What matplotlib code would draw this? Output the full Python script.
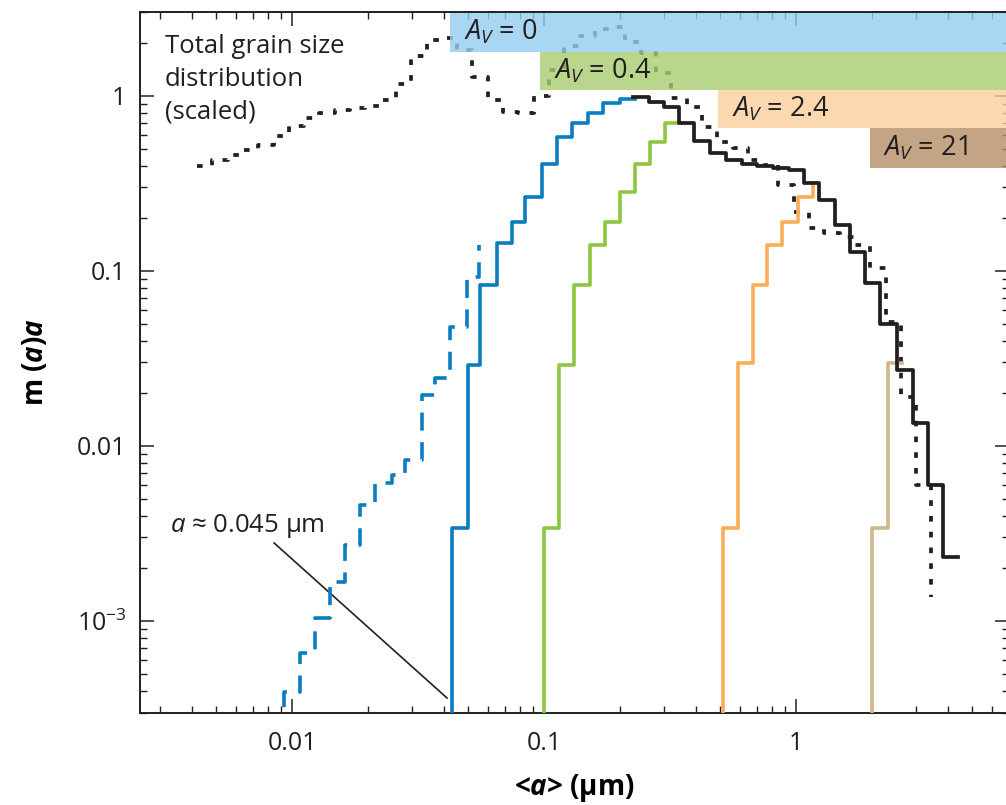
import numpy as np
import matplotlib.pyplot as plt
from matplotlib.patches import Rectangle

plt.rcParams['font.family'] = ['Open Sans', 'DejaVu Sans']
plt.rcParams['mathtext.fontset'] = 'custom'
plt.rcParams['mathtext.rm'] = 'Open Sans'
plt.rcParams['mathtext.it'] = 'Open Sans:italic'
plt.rcParams['mathtext.bf'] = 'Open Sans:bold'
plt.rcParams['mathtext.bfit'] = 'Open Sans:italic:bold'

# total grain size distribution (scaled), dotted histogram
total_edges = [0.004198, 0.004828, 0.005552, 0.006385, 0.007343, 0.008445, 0.009712,
               0.01117, 0.01284, 0.01477, 0.01699, 0.01953, 0.02246, 0.02583, 0.02972,
               0.03417, 0.03930, 0.04519, 0.05198, 0.05978, 0.06875, 0.07907, 0.09093,
               0.1046, 0.1203, 0.1383, 0.1591, 0.1829, 0.2104, 0.2420, 0.2783, 0.3200,
               0.3681, 0.4233, 0.4868, 0.5598, 0.6438, 0.7404, 0.8515, 0.9792, 1.126,
               1.295, 1.489, 1.713, 1.970, 2.265, 2.606, 2.996, 3.446]
total_vals = [0.398, 0.431, 0.460, 0.491, 0.525, 0.591, 0.674, 0.749, 0.800, 0.832,
              0.854, 0.877, 0.949, 1.171, 1.693, 2.089, 2.145, 1.832, 1.284, 0.949,
              0.810, 0.800, 1.0, 1.408, 1.931, 2.202, 2.415, 2.479, 2.035, 1.761,
              1.353, 0.974, 0.865, 0.665, 0.546, 0.504, 0.431, 0.403, 0.310, 0.217,
              0.176, 0.165, 0.156, 0.141, 0.104, 0.0511, 0.0191, 0.00598]
total_end = 0.00137

# A_V = 0, lower cut-off extended (dashed blue)
av0d_edges = [0.00929, 0.01076, 0.01234, 0.01416, 0.01623, 0.01862, 0.02135, 0.02494,
              0.02808, 0.03272, 0.03690, 0.04236, 0.04933, 0.05533]
av0d_vals = [3.93e-4, 6.56e-4, 1.04e-3, 1.67e-3, 2.72e-3, 4.6e-3, 6.15e-3, 6.83e-3,
             8.32e-3, 0.0196, 0.0245, 0.0479, 0.0924]
av0d_end = 0.14

# A_V = 0 (solid blue)
av0_edges = [0.0431, 0.0501, 0.0557, 0.0649, 0.0744, 0.0841, 0.098, 0.1123, 0.1288,
             0.150, 0.1718, 0.2004, 0.2297]
av0_vals = [0.0034, 0.029, 0.083, 0.144, 0.19, 0.266, 0.41, 0.586, 0.698, 0.796,
            0.908, 0.957]

# A_V = 0.4 (green)
av04_edges = [0.1, 0.1148, 0.1316, 0.152, 0.1747, 0.2004, 0.2297, 0.2636, 0.302, 0.3467]
av04_vals = [0.0034, 0.029, 0.083, 0.141, 0.191, 0.284, 0.41, 0.548, 0.698]

# A_V = 2.4 (orange)
av24_edges = [0.512, 0.590, 0.677, 0.766, 0.878, 1.021, 1.172]
av24_vals = [0.0034, 0.0297, 0.083, 0.141, 0.191, 0.266]
av24_end = 0.317

# A_V = 21 (tan)
av21_edges = [1.995, 2.32, 2.63]
av21_vals = [0.0034, 0.0297]

# common large-grain part (black)
big_edges = [0.2254, 0.261, 0.299, 0.343, 0.394, 0.456, 0.527, 0.610, 0.700, 0.811,
             0.938, 1.077, 1.234, 1.429, 1.638, 1.878, 2.153, 2.515, 2.911, 3.34,
             3.83, 4.39]
big_vals = [0.99, 0.92, 0.87, 0.70, 0.55, 0.47, 0.43, 0.41, 0.40, 0.39, 0.378, 0.317,
            0.255, 0.183, 0.129, 0.085, 0.050, 0.0272, 0.0135, 0.0060, 0.00233]

# label boxes: text, left size cut-off, lower and upper y
box_labels = ['$A_V$ = 0', '$A_V$ = 0.4', '$A_V$ = 2.4', '$A_V$ = 21']
box_left = [0.0424, 0.0968, 0.492, 1.966]
box_low = [1.79, 1.082, 0.654, 0.389]
box_high = [3.0, 1.79, 1.082, 0.654]
box_colors = ['#94cef0', '#a6ce6f', '#fbcf9c', '#b58d65']

XMIN, XMAX = 0.0025, 7.0
YMIN, YMAX = 3e-4, 3.0
FLOOR = 1e-4


def step_xy(edges, values, floor=None, end=None):
    xs, ys = [], []
    if floor is not None:
        xs.append(edges[0])
        ys.append(floor)
    for i, v in enumerate(values):
        xs += [edges[i], edges[i + 1]]
        ys += [v, v]
    if end is not None:
        xs.append(edges[-1])
        ys.append(end)
    return xs, ys


fig = plt.figure(figsize=(10.06, 8.05), dpi=100)
ax = fig.add_axes([0.1395, 0.1149, 0.8635, 0.8696])
ax.set_xscale('log')
ax.set_yscale('log')
ax.set_xlim(XMIN, XMAX)
ax.set_ylim(YMIN, YMAX)

# dotted total distribution
x, y = step_xy(total_edges, total_vals, end=total_end)
ax.plot(x, y, color='#231f20', lw=2.7, ls=(0, (1.5, 2.7)), zorder=1)

# label boxes over the dotted line
for lab, xl, lo, hi, c in zip(box_labels, box_left, box_low, box_high, box_colors):
    ax.add_patch(Rectangle((xl, lo), XMAX * 2 - xl, hi - lo, facecolor=c,
                           edgecolor='none', alpha=0.8, zorder=2))
    ax.text(xl * 1.13, np.sqrt(lo * hi), lab, fontsize=19.5, va='center', ha='left',
            color='#231f20', zorder=3)

x, y = step_xy(av0d_edges, av0d_vals, floor=FLOOR, end=av0d_end)
ax.plot(x, y, color='#0a7dc2', lw=2.6, ls=(0, (5, 3.2)), zorder=4)

for ed, vals, col, end in [(av0_edges, av0_vals, '#0a7dc2', None),
                           (av04_edges, av04_vals, '#8dc63f', None),
                           (av24_edges, av24_vals, '#fbad57', av24_end),
                           (av21_edges, av21_vals, '#d3b68e', None)]:
    x, y = step_xy(ed, vals, floor=FLOOR, end=end)
    ax.plot(x, y, color=col, lw=2.6, zorder=5)

x, y = step_xy(big_edges, big_vals)
ax.plot(x, y, color='#231f20', lw=2.7, zorder=6)

# annotations
ax.text(0.00313, 2.25, 'Total grain size\ndistribution\n(scaled)', fontsize=18.5,
        va='top', ha='left', linespacing=1.4, color='#231f20')
ax.text(0.00328, 3.23e-3, r'$a$ ≈ 0.045 µm', fontsize=18.5, va='baseline', ha='left',
        color='#231f20')
ax.plot([0.00849, 0.0412], [2.79e-3, 3.63e-4], color='#231f20', lw=1.2)

ax.set_xticks([0.01, 0.1, 1])
ax.set_xticklabels(['0.01', '0.1', '1'])
ax.set_yticks([1e-3, 1e-2, 0.1, 1])
ax.set_yticklabels([r'$10^{-3}$', '0.01', '0.1', '1'])
ax.tick_params(which='both', direction='in', top=True, right=True, labelsize=18,
               colors='#231f20')
ax.tick_params(axis='y', which='major', length=10, width=1.1, pad=10)
ax.tick_params(axis='x', which='major', length=10, width=1.1, pad=13)
ax.tick_params(which='minor', length=5, width=1.0)
for s in ax.spines.values():
    s.set_linewidth(1.4)
    s.set_color('#231f20')

ax.set_xlabel(r'<$\mathbfit{a}$> (µm)', fontsize=20, fontweight='bold', labelpad=12)
ax.set_ylabel(r'$\mathbf{m}$ $\mathbf{(}\mathbfit{a}\mathbf{)}\mathbfit{a}$',
              fontsize=20, fontweight='bold', labelpad=19)

fig.savefig('out.png', dpi=100)
